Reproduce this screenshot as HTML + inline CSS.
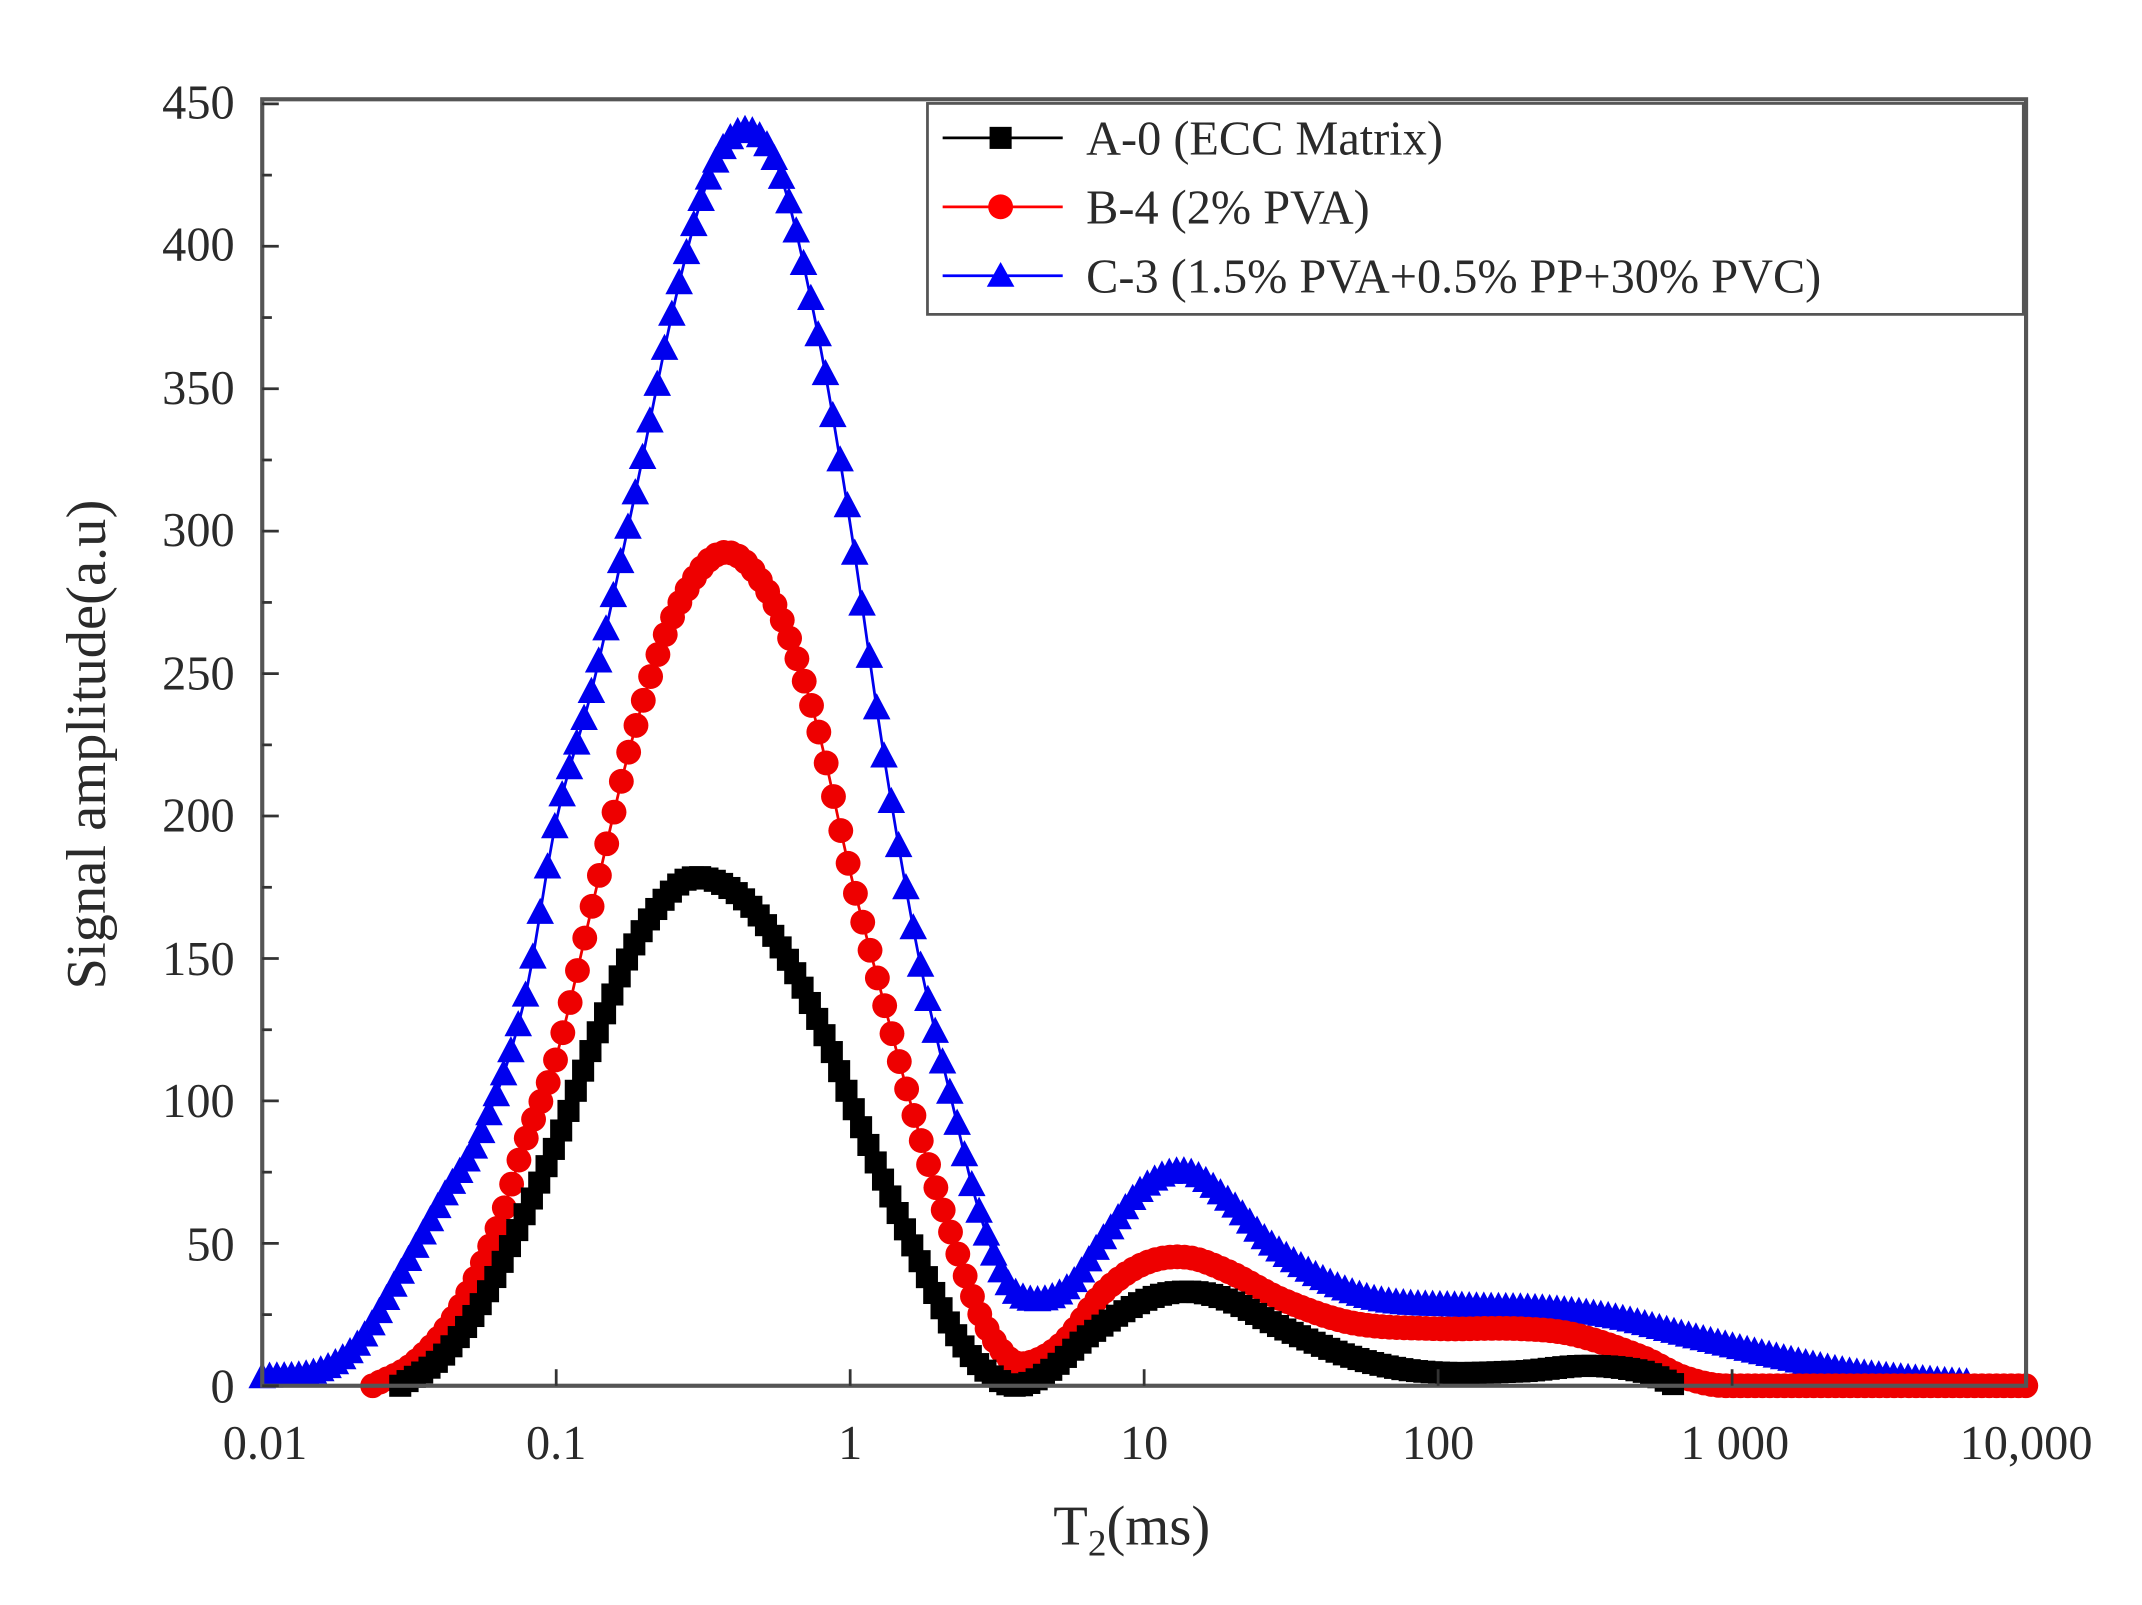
<!DOCTYPE html>
<html><head><meta charset="utf-8"><style>
html,body{margin:0;padding:0;background:#fff;}
svg{display:block;}
text{font-family:"Liberation Serif",serif;fill:#2a2a2a;}
</style></head><body>
<svg id="s" width="2142" height="1605" viewBox="0 0 1552 1164" preserveAspectRatio="none" xmlns="http://www.w3.org/2000/svg">
<rect x="0" y="0" width="1552" height="1164" fill="#fff"/>
<g id="curves"></g>
<rect x="190" y="72" width="1278" height="933" fill="none" stroke="#555" stroke-width="3"/>
<g id="ticks" stroke="#333" stroke-width="2"></g>
<g font-size="35" text-anchor="end">
<text x="170" y="1017">0</text><text x="170" y="914">50</text><text x="170" y="810">100</text>
<text x="170" y="707">150</text><text x="170" y="603">200</text><text x="170" y="500">250</text>
<text x="170" y="396">300</text><text x="170" y="293">350</text><text x="170" y="189">400</text>
<text x="170" y="86">450</text>
</g>
<g font-size="35" text-anchor="middle">
<text x="192" y="1058">0.01</text><text x="403" y="1058">0.1</text><text x="616" y="1058">1</text>
<text x="829" y="1058">10</text><text x="1042" y="1058">100</text><text x="1257" y="1058">1 000</text>
<text x="1468" y="1058">10,000</text>
</g>
<text x="820" y="1120" font-size="41" text-anchor="middle">T<tspan font-size="27" dy="8">2</tspan><tspan dy="-8">(ms)</tspan></text>
<text transform="translate(76,540) rotate(-90)" font-size="41" text-anchor="middle">Signal amplitude(a.u)</text>
<rect x="672" y="75" width="794" height="153" fill="#fff" stroke="#555" stroke-width="2"/>
<line x1="683" y1="100" x2="770" y2="100" stroke="#000" stroke-width="2"/>
<rect x="717" y="92" width="16" height="16" fill="#000"/>
<line x1="683" y1="150" x2="770" y2="150" stroke="#f00" stroke-width="2"/>
<circle cx="725" cy="150" r="9" fill="#f00"/>
<line x1="683" y1="200" x2="770" y2="200" stroke="#00f" stroke-width="2"/>
<polygon points="725,190 735,208 715,208" fill="#00f"/>
<g font-size="35">
<text x="787" y="112">A-0 (ECC Matrix)</text>
<text x="787" y="162">B-4 (2% PVA)</text>
<text x="787" y="212">C-3 (1.5% PVA+0.5% PP+30% PVC)</text>
</g>
</svg>
<script>
(function(){
var NS="http://www.w3.org/2000/svg";
function el(t,a,p){var e=document.createElementNS(NS,t);for(var k in a)e.setAttribute(k,a[k]);p.appendChild(e);return e;}
var tk=document.getElementById('ticks');
for(var i=0;i<=9;i++){var y=1005-i*103.3;el('line',{x1:190,y1:y,x2:202,y2:y},tk);if(i<9)el('line',{x1:190,y1:y-51.6,x2:197,y2:y-51.6},tk);}
for(var j=1;j<6;j++){var x=190+j*213;el('line',{x1:x,y1:1005,x2:x,y2:993},tk);}
var Y=function(v){return 1005-v*2.07;};
var blue=[[190,3],[230,5],[260,15],[290,39],[320,65],[350,90],[380,135],[403,198],[430,246],[460,312],[490,382],[515,425],[540,440],[565,425],[592,370],[616,302],[640,222],[665,152],[690,99],[710,60],[730,36],[750,30],[775,35],[800,52],[830,70],[860,75],[890,65],[920,50],[960,37],[1000,30],[1060,28],[1120,27],[1170,24],[1220,18],[1280,11],[1340,5],[1400,2],[1430,1]];
var red=[[270,0],[300,8],[330,25],[360,55],[380,85],[403,115],[430,170],[460,230],[490,272],[525,292],[560,275],[590,235],[616,180],[640,135],[665,90],[690,52],[710,25],[730,10],[745,8],[770,15],[800,33],[830,43],[860,45],[890,40],[930,30],[980,22],[1040,20],[1100,20],[1140,18],[1190,10],[1220,3],[1250,0],[1468,0]];
var black=[[290,0],[320,10],[350,30],[380,60],[403,85],[430,120],[460,155],[490,175],[510,178],[540,170],[570,150],[600,120],[616,100],[640,72],[665,45],[690,20],[710,7],[735,0],[760,5],[790,18],[830,30],[860,33],[890,30],[930,20],[980,10],[1030,5],[1100,5],[1150,7],[1190,5],[1215,0]];
function interp(pts,x){
 for(var i=0;i<pts.length-1;i++){var a=pts[i],b=pts[i+1];if(x>=a[0]&&x<=b[0]){
  var p0=pts[Math.max(0,i-1)],p3=pts[Math.min(pts.length-1,i+2)];
  var t=(x-a[0])/(b[0]-a[0]);
  var m1=(b[1]-p0[1])/(b[0]-p0[0])*(b[0]-a[0]),m2=(p3[1]-a[1])/(p3[0]-a[0])*(b[0]-a[0]);
  var t2=t*t,t3=t2*t;
  return (2*t3-3*t2+1)*a[1]+(t3-2*t2+t)*m1+(-2*t3+3*t2)*b[1]+(t3-t2)*m2;}}
 return null;}
var g=document.getElementById('curves');
function draw(pts,col,kind,dx){
 var x0=pts[0][0],x1=pts[pts.length-1][0],d='',xs=[];
 for(var x=x0;x<=x1+0.01;x+=dx){xs.push(x);}
 xs.forEach(function(x,i){var v=Math.max(0,interp(pts,x));d+=(i?'L':'M')+x.toFixed(1)+','+Y(v).toFixed(1);});
 el('path',{d:d,fill:'none',stroke:col,'stroke-width':2},g);
 xs.forEach(function(x){var y=Y(Math.max(0,interp(pts,x)));
  if(kind=='s')el('rect',{x:x-8,y:y-8,width:16,height:16,fill:col},g);
  else if(kind=='c')el('circle',{cx:x,cy:y,r:9,fill:col},g);
  else el('polygon',{points:x+','+(y-11)+' '+(x+10)+','+(y+8)+' '+(x-10)+','+(y+8),fill:col},g);});
}
draw(blue,'#0000ee','t',5.3);
draw(red,'#ee0000','c',5.3);
draw(black,'#000','s',5.3);
})();
</script>
</body></html>
